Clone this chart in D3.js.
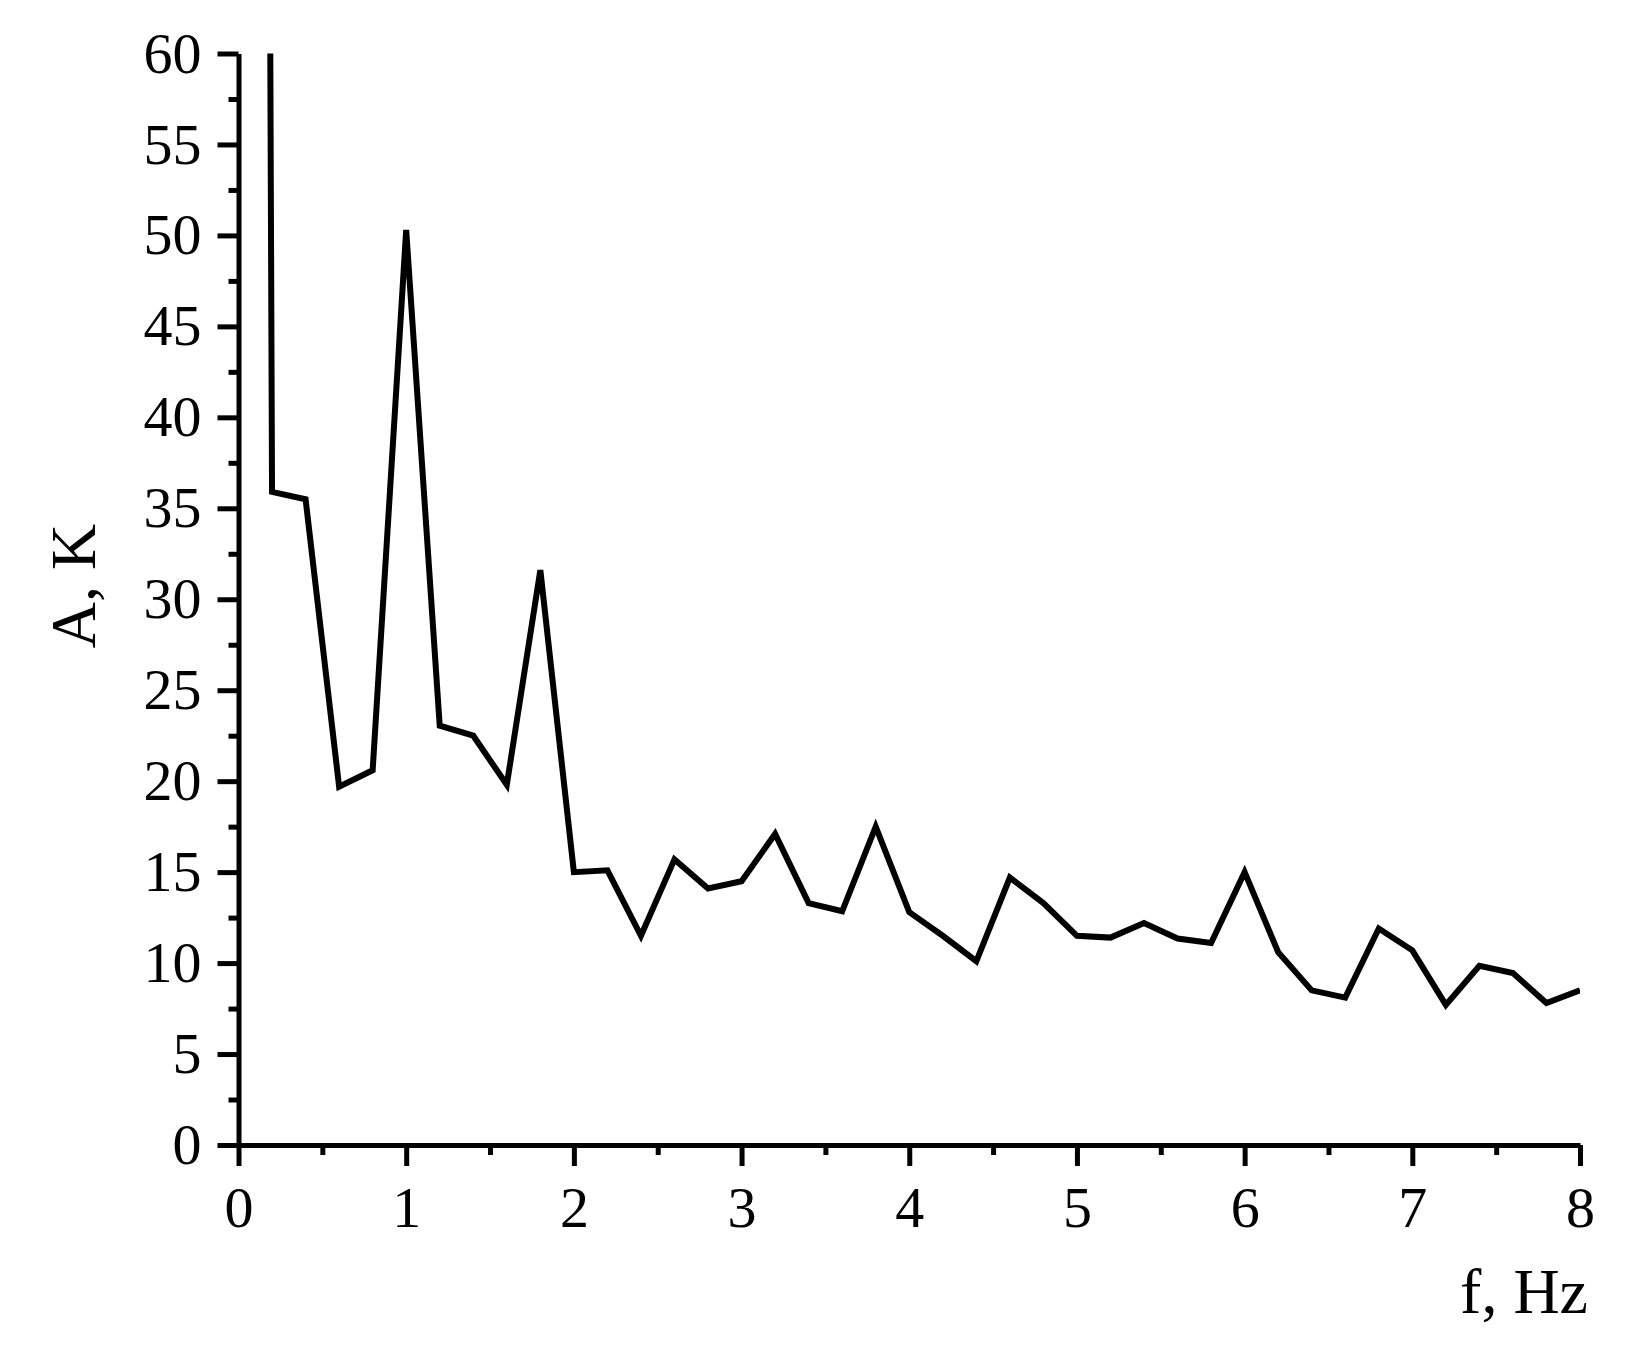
<!DOCTYPE html>
<html lang="en">

<head>
  <meta charset="UTF-8">
  <title>A vs f</title>
  <script src="https://d3js.org/d3.v7.min.js"></script>
  <style>
    body { margin: 0; background: #fff; }
    text { font-family: "Liberation Serif", "Times New Roman", serif; fill: #000; }
  </style>
</head>

<body>
  <script>
    // frequency, Hz
    const freq = [0, 0.2, 0.4, 0.6, 0.8, 1.0, 1.2, 1.4, 1.6, 1.8, 2.0,
      2.2, 2.4, 2.6, 2.8, 3.0, 3.2, 3.4, 3.6, 3.8, 4.0,
      4.2, 4.4, 4.6, 4.8, 5.0, 5.2, 5.4, 5.6, 5.8, 6.0,
      6.2, 6.4, 6.6, 6.8, 7.0, 7.2, 7.4, 7.6, 7.8, 8.0];
    // amplitude, K (first point is off the chart)
    const amp = [500, 35.9, 35.5, 19.7, 20.6, 50.3, 23.05, 22.5, 19.8, 31.6, 15.0,
      15.1, 11.5, 15.7, 14.1, 14.5, 17.1, 13.3, 12.85, 17.5, 12.8,
      11.5, 10.1, 14.7, 13.3, 11.5, 11.4, 12.2, 11.35, 11.1, 15.0,
      10.6, 8.5, 8.1, 11.9, 10.7, 7.7, 9.85, 9.45, 7.8, 8.5];

    const xTicks = [0, 1, 2, 3, 4, 5, 6, 7, 8];
    const xMinor = [0.5, 1.5, 2.5, 3.5, 4.5, 5.5, 6.5, 7.5];
    const yTicks = [0, 5, 10, 15, 20, 25, 30, 35, 40, 45, 50, 55, 60];
    const yMinor = [2.5, 7.5, 12.5, 17.5, 22.5, 27.5, 32.5, 37.5, 42.5, 47.5, 52.5, 57.5];

    const w = 1642;
    const h = 1361;
    const padL = 238.5, padR = 1580, padT = 53.5, padB = 1145;

    const svg = d3.select('body')
      .append('svg')
      .attr('width', w)
      .attr('height', h);

    const xScale = d3.scaleLinear().domain([0, 8]).range([padL, padR]);
    const yScale = d3.scaleLinear().domain([0, 60]).range([padB, padT]);

    svg.append('clipPath')
      .attr('id', 'plot')
      .append('rect')
      .attr('x', padL)
      .attr('y', padT)
      .attr('width', padR - padL)
      .attr('height', padB - padT);

    // the curve
    const line = d3.line()
      .x((d, i) => xScale(freq[i]))
      .y(d => yScale(d));

    svg.append('path')
      .datum(amp)
      .attr('clip-path', 'url(#plot)')
      .attr('d', line)
      .attr('fill', 'none')
      .attr('stroke', '#000')
      .attr('stroke-width', 6);

    // minor ticks
    svg.append('g')
      .attr('transform', `translate(0,${padB})`)
      .call(d3.axisBottom(xScale).tickValues(xMinor).tickFormat('').tickSize(10).tickSizeOuter(0))
      .call(g => g.select('.domain').remove());
    svg.append('g')
      .attr('transform', `translate(${padL},0)`)
      .call(d3.axisLeft(yScale).tickValues(yMinor).tickFormat('').tickSize(10).tickSizeOuter(0))
      .call(g => g.select('.domain').remove());

    // major axes
    const xAxis = d3.axisBottom(xScale).tickValues(xTicks).tickSize(21).tickSizeOuter(0).tickPadding(20);
    const yAxis = d3.axisLeft(yScale).tickValues(yTicks).tickSize(21).tickSizeOuter(0).tickPadding(16);

    svg.append('g')
      .attr('transform', `translate(0,${padB})`)
      .call(xAxis);

    svg.append('g')
      .attr('transform', `translate(${padL},0)`)
      .call(yAxis);

    svg.selectAll('.tick line').attr('stroke-width', 5);
    svg.selectAll('.domain').attr('stroke-width', 5);
    svg.selectAll('.tick text')
      .style('font-family', '"Liberation Serif", serif')
      .style('font-size', '58px');

    // axis titles
    svg.append('text')
      .attr('x', 1588)
      .attr('y', 1313)
      .attr('text-anchor', 'end')
      .style('font-size', '64px')
      .text('f, Hz');

    svg.append('text')
      .attr('transform', 'translate(95,586) rotate(-90)')
      .attr('text-anchor', 'middle')
      .style('font-size', '64px')
      .text('A, K');
  </script>
</body>

</html>
